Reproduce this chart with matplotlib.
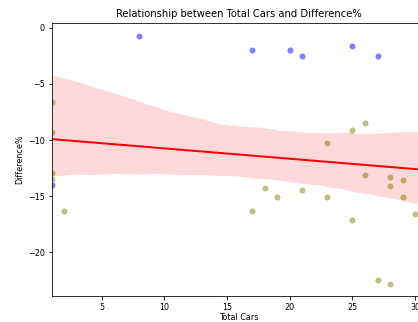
import matplotlib
matplotlib.use('Agg')
import matplotlib.pyplot as plt
import seaborn as sns
import numpy as np

# points shown in blue
blue_cars = [1, 8, 17, 20, 21, 25, 27]
blue_diff = [-14.0, -0.7, -2.0, -2.0, -2.5, -1.6, -2.5]

# points shown in olive
olive_cars = [1, 1, 1, 1, 2, 17, 18, 19, 21, 23, 23, 25, 25, 26, 26,
              27, 28, 28, 28, 29, 29, 30]
olive_diff = [-6.6, -9.3, -12.9, -13.5, -16.3, -16.3, -14.3, -15.1, -14.5,
              -10.3, -15.1, -9.1, -17.1, -8.5, -13.1, -22.5, -13.3, -14.1,
              -22.8, -13.6, -15.1, -16.6]

all_cars = np.array(blue_cars + olive_cars)
all_diff = np.array(blue_diff + olive_diff)

W, H = 418, 322
fig = plt.figure(figsize=(W / 72, H / 72), dpi=72)
ax = fig.add_axes([51.7 / W, 1 - 296 / H, (426 - 51.7) / W, (296 - 23.3) / H])
ax.set_xlim(1, 30.87)

ax.scatter(olive_cars, olive_diff, color='olive', alpha=0.5, linewidths=0)
ax.scatter(blue_cars, blue_diff, color='blue', alpha=0.5, linewidths=0)
sns.regplot(x=all_cars, y=all_diff, scatter=False, color='red', truncate=False,
            seed=3, ax=ax, line_kws={'lw': 2})

ax.set_title('Relationship between Total Cars and Difference%', fontsize=10)
ax.set_xlabel('Total Cars', fontsize=8, labelpad=1)
ax.set_ylabel('Difference%', fontsize=8)
ax.tick_params(labelsize=8)

fig.savefig('out.png', dpi=72)
